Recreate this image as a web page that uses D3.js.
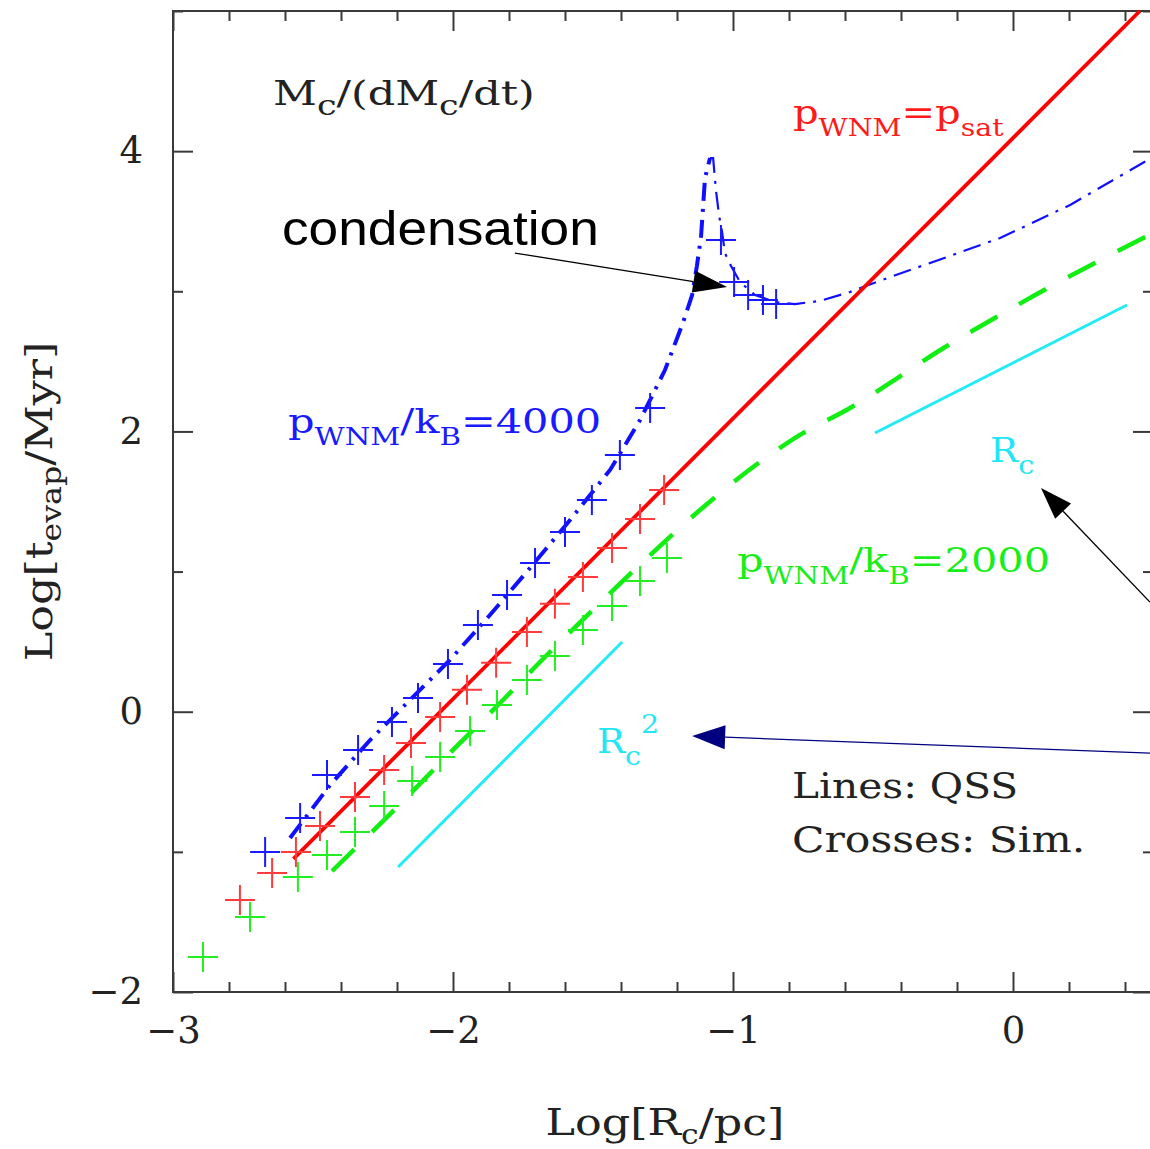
<!DOCTYPE html>
<html><head><meta charset="utf-8">
<script src="https://cdn.jsdelivr.net/npm/d3@7"></script>
<style>body{margin:0;background:#fff}</style>
</head><body>
<svg id="c" width="1150" height="1149"></svg>
<script>
// ---------- data (log R_c / pc , log t_evap / Myr) ----------
const redLineX = [-2.57, 0.453];
const redLineY = [-1.05, 5.0];

const redCrossX = [-2.761, -2.646, -2.561, -2.475, -2.35, -2.246, -2.15, -2.046, -1.95, -1.846, -1.736, -1.636, -1.536, -1.432, -1.332, -1.246];
const redCrossY = [-1.344, -1.151, -1.001, -0.816, -0.609, -0.416, -0.223, -0.037, 0.156, 0.349, 0.569, 0.77, 0.961, 1.168, 1.375, 1.582];

const greenCrossX = [-2.893, -2.725, -2.554, -2.45, -2.35, -2.246, -2.146, -2.046, -1.939, -1.843, -1.736, -1.636, -1.536, -1.432, -1.332, -1.236];
const greenCrossY = [-1.75, -1.465, -1.18, -1.023, -0.858, -0.673, -0.495, -0.323, -0.138, 0.048, 0.226, 0.397, 0.583, 0.754, 0.933, 1.097];

const blueCrossX = [-2.671, -2.546, -2.45, -2.339, -2.218, -2.125, -2.018, -1.911, -1.807, -1.707, -1.6, -1.504, -1.404, -1.296, -1.043, -0.996, -0.946, -0.893, -0.846];
const blueCrossY = [-1.001, -0.758, -0.452, -0.273, -0.074, 0.098, 0.34, 0.619, 0.833, 1.061, 1.282, 1.511, 1.832, 2.167, 3.366, 3.066, 2.973, 2.938, 2.909];

// QSS curve, p/k = 4000 : rising branch (thick) and post-peak branch (thin)
const blueRiseX = [-2.582, -2.439, -2.296, -2.154, -2.011, -1.868, -1.725, -1.582, -1.439, -1.332, -1.243, -1.179, -1.146, -1.129, -1.114, -1.1, -1.082];
const blueRiseY = [-0.901, -0.523, -0.202, 0.083, 0.369, 0.69, 1.025, 1.368, 1.725, 2.081, 2.438, 2.774, 2.973, 3.18, 3.394, 3.808, 3.951];
const blueFallX = [-1.082, -1.071, -1.061, -1.05, -1.039, -1.029, -1.007, -0.975, -0.921, -0.85, -0.779, -0.689, -0.582, -0.439, -0.296, -0.046, 0.204, 0.5];
const blueFallY = [3.951, 3.951, 3.723, 3.544, 3.423, 3.273, 3.18, 3.066, 2.973, 2.923, 2.909, 2.931, 2.995, 3.102, 3.202, 3.38, 3.616, 3.958];

// QSS curve, p/k = 2000
const greenLineX = [-2.432, -2.189, -2.011, -1.832, -1.654, -1.475, -1.296, -1.118, -0.939, -0.761, -0.582, -0.439, -0.271, -0.096, 0.079, 0.5];
const greenLineY = [-1.137, -0.659, -0.295, 0.062, 0.426, 0.776, 1.118, 1.439, 1.73, 1.975, 2.167, 2.346, 2.567, 2.774, 2.973, 3.416];

// reference slopes
const cyanSteepX = [-2.196, -1.396];
const cyanSteepY = [-1.108, 0.497];
const cyanShallowX = [-0.493, 0.407];
const cyanShallowY = [1.989, 2.902];

const xMajor = [-3, -2, -1, 0];
const yMajor = [-2, 0, 2, 4];

// ---------- layout ----------
const svg = d3.select('#c');
const x = d3.scaleLinear().domain([-3, 0.5]).range([173, 1153]);
const y = d3.scaleLinear().domain([-2, 5]).range([992, 11]);
const serif = "'DejaVu Serif', serif";
const frameCol = '#3a3a3a';

const xMinor = d3.range(-3, 0.5001, 0.2).filter(v => Math.abs(v - Math.round(v)) > 1e-6);
const yMinor = d3.range(-2, 5.001, 1).filter(v => Math.round(v) % 2 !== 0);

function styleAxis(g) {
  g.select('.domain').remove();
  g.selectAll('line').attr('stroke', frameCol).attr('stroke-width', 2);
  g.selectAll('text').attr('font-family', serif).attr('font-size', 37).attr('fill', '#222');
}
// bottom
svg.append('g').attr('transform', `translate(0,${y(-2)})`)
  .call(d3.axisBottom(x).tickValues(xMajor).tickSize(-20).tickPadding(25).tickFormat(d3.format('d'))).call(styleAxis);
svg.append('g').attr('transform', `translate(0,${y(-2)})`)
  .call(d3.axisBottom(x).tickValues(xMinor).tickSize(-10).tickFormat('')).call(styleAxis);
// top
svg.append('g').attr('transform', `translate(0,${y(5)})`)
  .call(d3.axisTop(x).tickValues(xMajor).tickSize(-20).tickFormat('')).call(styleAxis);
svg.append('g').attr('transform', `translate(0,${y(5)})`)
  .call(d3.axisTop(x).tickValues(xMinor).tickSize(-10).tickFormat('')).call(styleAxis);
// left
svg.append('g').attr('transform', `translate(${x(-3)},0)`)
  .call(d3.axisLeft(y).tickValues(yMajor).tickSize(-20).tickPadding(30).tickFormat(d3.format('d'))).call(styleAxis);
svg.append('g').attr('transform', `translate(${x(-3)},0)`)
  .call(d3.axisLeft(y).tickValues(yMinor).tickSize(-10).tickFormat('')).call(styleAxis);
// right
svg.append('g').attr('transform', `translate(${x(0.5)},0)`)
  .call(d3.axisRight(y).tickValues(yMajor).tickSize(-20).tickFormat('')).call(styleAxis);
svg.append('g').attr('transform', `translate(${x(0.5)},0)`)
  .call(d3.axisRight(y).tickValues(yMinor).tickSize(-10).tickFormat('')).call(styleAxis);

svg.append('rect').attr('x', x(-3)).attr('y', y(5)).attr('width', x(0.5) - x(-3)).attr('height', y(-2) - y(5))
  .attr('fill', 'none').attr('stroke', frameCol).attr('stroke-width', 2);

// ---------- lines ----------
const line = d3.line().x(d => x(d[0])).y(d => y(d[1]));
const smooth = d3.line().x(d => x(d[0])).y(d => y(d[1])).curve(d3.curveMonotoneX);
const zip = (a, b) => a.map((v, i) => [v, b[i]]);

svg.append('path').attr('d', line(zip(cyanSteepX, cyanSteepY))).attr('stroke', '#22eaf6').attr('stroke-width', 3).attr('fill', 'none');
svg.append('path').attr('d', line(zip(cyanShallowX, cyanShallowY))).attr('stroke', '#22eaf6').attr('stroke-width', 3).attr('fill', 'none');

svg.append('path').attr('d', smooth(zip(greenLineX, greenLineY))).attr('stroke', '#11ee11').attr('stroke-width', 4.5)
  .attr('fill', 'none').attr('stroke-dasharray', '31,25');

svg.append('path').attr('d', line(zip(blueRiseX, blueRiseY))).attr('stroke', '#1010ff').attr('stroke-width', 4)
  .attr('fill', 'none').attr('stroke-dasharray', '18,8,3,8');
svg.append('path').attr('d', line(zip(blueFallX, blueFallY))).attr('stroke', '#1010ff').attr('stroke-width', 2.2)
  .attr('fill', 'none').attr('stroke-dasharray', '18,8,3,8');

svg.append('path').attr('d', line(zip(redLineX, redLineY))).attr('stroke', '#ff0000').attr('stroke-width', 3.8).attr('fill', 'none');

// ---------- crosses ----------
function crosses(xs, ys, col) {
  svg.append('g').selectAll('path').data(zip(xs, ys)).join('path')
    .attr('transform', d => `translate(${x(d[0])},${y(d[1])})`)
    .attr('d', 'M-15,0H15M0,-15V15').attr('stroke', col).attr('stroke-width', 2).attr('fill', 'none');
}
crosses(redCrossX, redCrossY, '#ff3b3b');
crosses(greenCrossX, greenCrossY, '#22ee22');
crosses(blueCrossX, blueCrossY, '#1a1aff');

// ---------- text ----------
function rich(px, py, parts, opt) {
  const t = svg.append('text').attr('x', 0).attr('y', 0)
    .attr('transform', `translate(${px},${py})${opt.rot ? ' rotate(' + opt.rot + ')' : ''} scale(${opt.sx || 1},1)`)
    .attr('font-family', opt.family || serif).attr('fill', opt.fill).attr('font-size', opt.size)
    .attr('text-anchor', opt.anchor || 'start');
  let cur = 0;
  parts.forEach(p => {
    const shift = p.sub ? opt.subShift : (p.sup ? -opt.supShift : 0);
    t.append('tspan').attr('dy', shift - cur).attr('font-size', (p.sub || p.sup) ? opt.subSize : opt.size).text(p.t);
    cur = shift;
  });
  return t;
}
rich(x(-2.643), y(4.329), [{t:'M'},{t:'c',sub:1},{t:'/(dM'},{t:'c',sub:1},{t:'/dt)'}],
  {fill:'#222', size:33, subSize:27, subShift:10, sx:1.3});
rich(x(-0.786), y(4.194), [{t:'p'},{t:'WNM',sub:1},{t:'=p'},{t:'sat',sub:1}],
  {fill:'#ff1a1a', size:34, subSize:24, subShift:12, sx:1.18});
rich(x(-2.589), y(1.989), [{t:'p'},{t:'WNM',sub:1},{t:'/k'},{t:'B',sub:1},{t:'=4000'}],
  {fill:'#1a1aff', size:34, subSize:24, subShift:12, sx:1.22});
rich(x(-0.986), y(0.997), [{t:'p'},{t:'WNM',sub:1},{t:'/k'},{t:'B',sub:1},{t:'=2000'}],
  {fill:'#1aee1a', size:34, subSize:24, subShift:12, sx:1.22});
rich(x(-0.082), y(1.782), [{t:'R'},{t:'c',sub:1}],
  {fill:'#22e6f6', size:34, subSize:26, subShift:12, sx:1.1});
rich(x(-1.486), y(-0.295), [{t:'R'},{t:'c',sub:1},{t:'2',sup:1}],
  {fill:'#22e6f6', size:34, subSize:26, subShift:12, supShift:20, sx:1.1});
rich(x(-0.789), y(-0.616), [{t:'Lines: QSS'}], {fill:'#222', size:36, sx:1.13});
rich(x(-0.789), y(-1.0), [{t:'Crosses: Sim.'}], {fill:'#222', size:36, sx:1.18});
rich(x(-2.611), y(3.33), [{t:'condensation'}], {fill:'#000', size:48, sx:1.11, family:"'Liberation Sans', Arial, sans-serif"});

// axis titles
rich(x(-1.243), 1135, [{t:'Log[R'},{t:'c',sub:1},{t:'/pc]'}], {fill:'#222', size:38, subSize:27, subShift:9, sx:1.17, anchor:'middle'});
rich(52, y(1.5), [{t:'Log[t'},{t:'evap',sub:1},{t:'/Myr]'}], {fill:'#222', size:38, subSize:27, subShift:9, sx:1.17, anchor:'middle', rot:-90});

// ---------- arrows ----------
function arrow(x0, y0, x1, y1, col, len, hw) {
  const X0 = x(x0), Y0 = y(y0), X1 = x(x1), Y1 = y(y1);
  const dx = X1 - X0, dy = Y1 - Y0, L = Math.hypot(dx, dy), ux = dx / L, uy = dy / L;
  const bx = X1 - ux * len, by = Y1 - uy * len;
  svg.append('line').attr('x1', X0).attr('y1', Y0).attr('x2', bx).attr('y2', by).attr('stroke', col).attr('stroke-width', 1.3);
  svg.append('path').attr('d', `M${X1},${Y1}L${bx - uy * hw},${by + ux * hw}L${bx + uy * hw},${by - ux * hw}Z`).attr('fill', col);
}
arrow(-1.779, 3.273, -1.021, 3.031, '#000', 34, 11);
arrow(0.489, 0.783, 0.1, 1.596, '#000', 32, 11);
arrow(0.489, -0.295, -1.146, -0.173, '#000080', 33, 12);
</script>
</body></html>
